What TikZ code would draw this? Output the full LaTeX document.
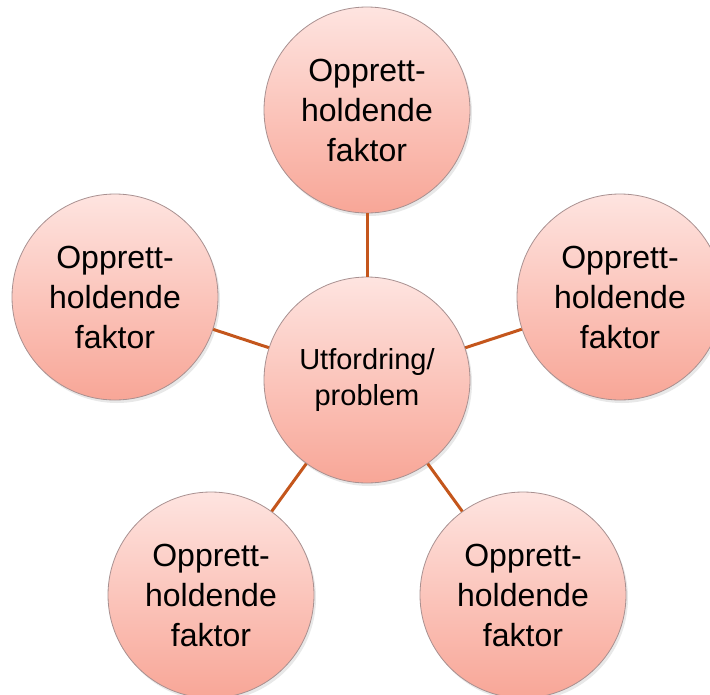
\documentclass[tikz,border=0pt]{standalone}
\usepackage{fontspec}
\setmainfont{Liberation Sans}
\usepackage{tikz}
\usetikzlibrary{shapes.geometric, shadows}
\definecolor{circtop}{HTML}{FEE4E0}
\definecolor{circbot}{HTML}{F8A697}
\definecolor{circline}{HTML}{A89090}
\definecolor{linkcol}{HTML}{C4561C}
\tikzstyle{factor} = [circle, minimum size=206pt, inner sep=0pt, text centered, align=center, draw=circline, line width=0.8pt, top color=circtop, bottom color=circbot, drop shadow={opacity=0.18, shadow xshift=2pt, shadow yshift=-3pt}, font=\fontsize{32}{40}\selectfont]
\tikzstyle{problem} = [factor, font=\fontsize{29}{36}\selectfont]
\tikzstyle{link} = [draw=linkcol, line width=3pt]

\begin{document}
\begin{tikzpicture}[x=1pt, y=-1pt]
   \useasboundingbox (0,0) rectangle (710,694);
   \node (prob) [problem] at (367,380) {Utfordring/\\problem};
   \node (top) [factor] at (367,110) {Opprett-\\holdende\\ faktor};
   \node (left) [factor] at (115,297) {Opprett-\\holdende\\ faktor};
   \node (right) [factor] at (620,297) {Opprett-\\holdende\\ faktor};
   \node (botleft) [factor] at (211,595) {Opprett-\\holdende\\ faktor};
   \node (botright) [factor] at (523,595) {Opprett-\\holdende\\ faktor};
   \path [link] (prob) -- (top);
   \path [link] (prob) -- (left);
   \path [link] (prob) -- (right);
   \path [link] (prob) -- (botleft);
   \path [link] (prob) -- (botright);
\end{tikzpicture}
\end{document}
